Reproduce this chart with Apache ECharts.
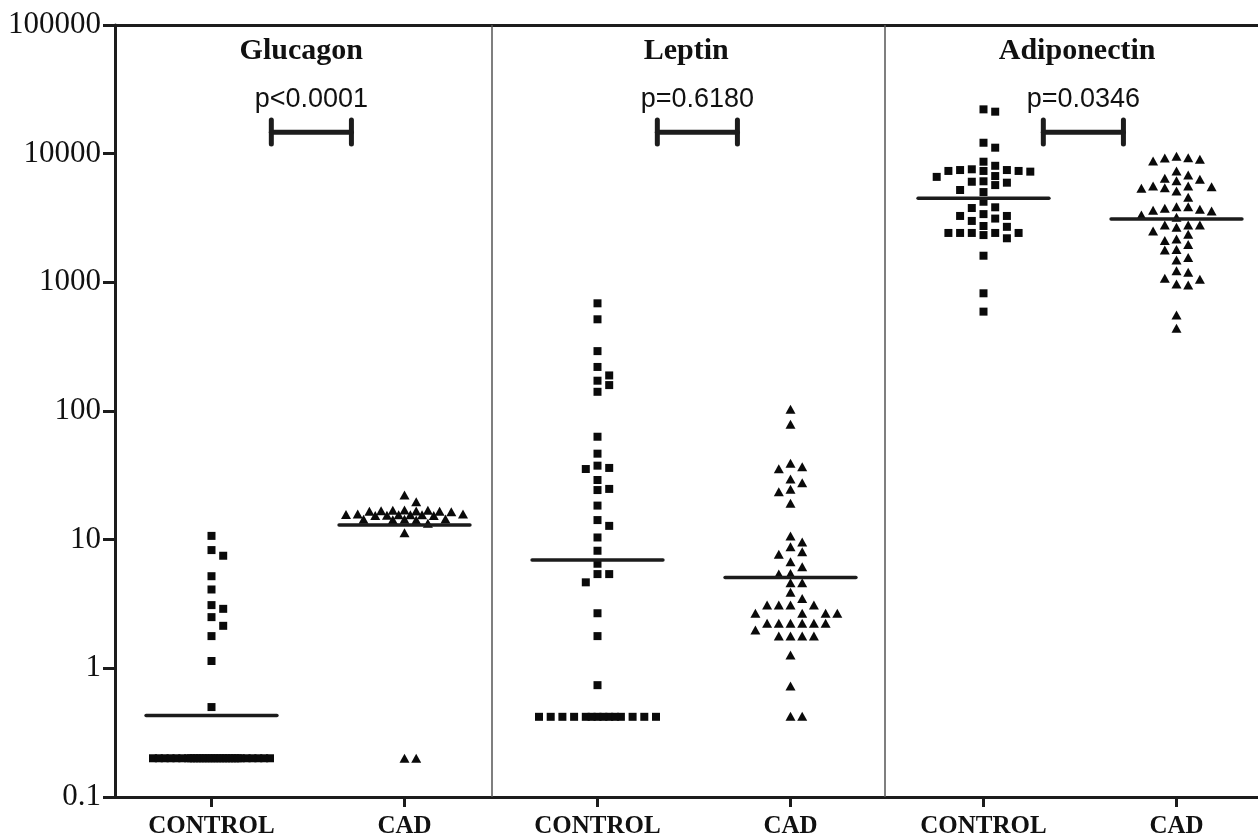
<!DOCTYPE html>
<html><head><meta charset="utf-8">
<script src="https://cdn.jsdelivr.net/npm/echarts@6/dist/echarts.min.js"></script>
<style>html,body{margin:0;padding:0;background:#fff}#c{width:1258px;height:837px}</style>
</head><body><div id="c"></div>
<script>
// ---------- data ----------
const categories = ['CONTROL', 'CAD', 'CONTROL', 'CAD', 'CONTROL', 'CAD'];
const panelTitles = ['Glucagon', 'Leptin', 'Adiponectin'];
const pValues = ['p<0.0001', 'p=0.6180', 'p=0.0346'];
const yTickLabels = ['0.1', '1', '10', '100', '1000', '10000', '100000'];
const panelDividers = [1.45, 3.49];

const glucagonControl = [10.7, 8.3, 7.5, 5.2, 4.1, 3.1, 2.9, 2.5, 2.14, 1.78, 1.14, 0.50,
  0.2, 0.2, 0.2, 0.2, 0.2, 0.2, 0.2, 0.2, 0.2, 0.2, 0.2, 0.2, 0.2, 0.2, 0.2,
  0.2, 0.2, 0.2, 0.2, 0.2, 0.2, 0.2, 0.2, 0.2, 0.2, 0.2, 0.2, 0.2, 0.2, 0.2];
const glucagonCAD = [22.2, 19.7, 16.9, 16.6, 17.0, 16.7, 16.8, 16.5, 16.9, 16.6,
  15.4, 15.8, 15.6, 15.5, 15.7, 15.6, 15.4, 15.8, 15.6,
  14.4, 14.3, 14.5, 14.4, 14.2, 13.4, 11.3, 0.2, 0.2];
const leptinControl = [687, 516, 292, 220, 189, 172, 159, 141, 63.1, 46.6, 37.6, 36.1, 35.4,
  29.1, 24.8, 24.3, 18.4, 14.2, 12.8, 10.4, 8.2, 6.5, 5.4, 5.4, 4.66, 2.68, 1.78, 0.74,
  0.42, 0.42, 0.42, 0.42, 0.42, 0.42, 0.42, 0.42, 0.42, 0.42, 0.42, 0.42, 0.42, 0.42];
const leptinCAD = [103, 79, 39.2, 36.9, 35.6, 29.6, 27.7, 24.6, 23.6, 19.2, 10.7, 9.6, 8.8,
  8.06, 7.7, 6.74, 6.17, 5.47, 5.4, 4.63, 4.63, 3.9, 3.49, 3.1, 3.1, 3.1, 3.1,
  2.68, 2.68, 2.68, 2.68, 2.24, 2.24, 2.24, 2.24, 2.24, 2.24, 1.99,
  1.78, 1.78, 1.78, 1.78, 1.27, 0.73, 0.425, 0.425];
const adiponectinControl = [22100, 21200, 12160, 11130, 8660, 8050, 7560, 6700, 7460, 7340,
  7250, 7340, 7460, 6600, 7340, 5950, 6100, 5220, 5700, 6050, 5030, 4230, 3830, 3280,
  3780, 3000, 3390, 3130, 3280, 2740, 2700, 2420, 2420, 2330, 2420, 2420, 2420, 2200,
  1610, 822, 592];
const adiponectinCAD = [9560, 9270, 8770, 9040, 9300, 7330, 6820, 6320, 6170, 6430, 5610,
  5540, 5380, 5130, 5440, 5610, 4580, 3870, 3760, 3640, 3340, 3590, 3700, 3870, 3200,
  2790, 2790, 2510, 2680, 2790, 2360, 2110, 1970, 2170, 1780, 1800, 1490, 1560, 1230,
  1200, 1055, 953, 970, 1075, 557, 440];
const medians = [0.43, 13.0, 6.95, 5.07, 4500, 3100];

const groups = [glucagonControl, glucagonCAD, leptinControl, leptinCAD, adiponectinControl, adiponectinCAD];

// ---------- chart ----------
const INK = '#1c1c1c';
const DOT = '#0a0a0a';
const X_MIN = -0.5, X_MAX = 5.5;
const chart = echarts.init(document.getElementById('c'), null, { renderer: 'canvas' });
const baseOption = {
  backgroundColor: '#ffffff',
  animation: false,
  grid: { left: 115, top: 25, bottom: 40, width: 1158, containLabel: false, outerBoundsMode: 'none' },
  xAxis: [
    { type: 'value', min: X_MIN, max: X_MAX, position: 'bottom',
      axisLine: { show: true, onZero: false, lineStyle: { color: INK, width: 3 } },
      axisTick: { show: false }, axisLabel: { show: false }, splitLine: { show: false } },
    { type: 'category', data: categories, position: 'bottom', boundaryGap: true,
      axisLine: { show: false, onZero: false },
      axisTick: { show: true, alignWithLabel: true, length: 10, lineStyle: { color: INK, width: 3 } },
      axisLabel: { show: true, interval: 0, margin: 17, color: '#111',
        fontFamily: 'Liberation Serif', fontWeight: 'bold', fontSize: 25 },
      splitLine: { show: false } },
    { type: 'value', min: X_MIN, max: X_MAX, position: 'top',
      axisLine: { show: true, onZero: false, lineStyle: { color: INK, width: 3 } },
      axisTick: { show: false }, axisLabel: { show: false }, splitLine: { show: false } }
  ],
  yAxis: [{
    type: 'log', logBase: 10, min: 0.1, max: 100000, splitNumber: 6, position: 'left',
    axisLine: { show: true, onZero: false, lineStyle: { color: INK, width: 3 } },
    axisTick: { show: true, length: 12, lineStyle: { color: INK, width: 3 } },
    axisLabel: { show: true, margin: 14, color: '#111', fontFamily: 'Liberation Serif', fontSize: 31,
      formatter: (v, i) => yTickLabels[i] },
    splitLine: { show: false }
  }],
  series: []
};
chart.setOption(baseOption);

// pixel helpers from the library's own scales
const px0 = chart.convertToPixel({ xAxisIndex: 0 }, 0);
const px1 = chart.convertToPixel({ xAxisIndex: 0 }, 1);
const pxPerUnit = px1 - px0;
const yPx = v => chart.convertToPixel({ yAxisIndex: 0 }, v);

// deterministic beeswarm layout (slot based)
function swarm(values, center) {
  const STEP = 11.7, THR = 9, MAXS = 5;
  const layers = [[], [], []];
  for (let k = 0; k <= MAXS; k++) { if (k === 0) layers[0].push(0); else layers[0].push(k, -k); }
  for (let k = 0.5; k < MAXS; k += 1) layers[1].push(k, -k);
  for (let k = 0.25; k < MAXS; k += 0.5) layers[2].push(k, -k);
  const order = values.map((v, i) => i).sort((a, b) => values[b] - values[a]);
  const placed = [];
  const out = new Array(values.length);
  order.forEach(i => {
    const py = yPx(values[i]);
    let chosen = null;
    for (const layer of layers) {
      for (const s of layer) {
        const hit = placed.some(p => p.s === s && Math.abs(p.py - py) < THR);
        if (!hit) { chosen = s; break; }
      }
      if (chosen !== null) break;
    }
    if (chosen === null) chosen = 0;
    placed.push({ s: chosen, py });
    out[i] = [center + chosen * STEP / pxPerUnit, values[i]];
  });
  return out;
}

const series = groups.map((vals, gi) => {
  const isControl = gi % 2 === 0;
  const s = {
    type: 'scatter', xAxisIndex: 0, yAxisIndex: 0,
    symbol: isControl ? 'rect' : 'triangle',
    symbolSize: isControl ? 8 : [10, 9],
    itemStyle: { color: DOT, opacity: 1 },
    data: swarm(vals, gi),
    silent: true, z: 3
  };
  if (gi === 0) {
    s.markLine = {
      silent: true, symbol: 'none', animation: false,
      label: { show: false },
      lineStyle: { color: '#555', width: 1.5, type: 'solid', opacity: 1 },
      data: panelDividers.map(v => ({ xAxis: v }))
    };
  }
  return s;
});

const HALF = 0.339;
series.push({
  type: 'custom', xAxisIndex: 0, yAxisIndex: 0, silent: true, z: 4,
  data: medians.map((m, i) => [i, m]),
  renderItem: (params, api) => {
    const i = api.value(0), m = api.value(1);
    const a = api.coord([i - HALF, m]), b = api.coord([i + HALF, m]);
    return { type: 'line', shape: { x1: a[0], y1: a[1], x2: b[0], y2: b[1] },
      style: { stroke: INK, lineWidth: 3.5, lineCap: 'round' } };
  }
});

// brackets + p values + panel titles
const panelBounds = [X_MIN].concat(panelDividers, [X_MAX]);
series.push({
  type: 'custom', xAxisIndex: 0, yAxisIndex: 0, silent: true, z: 5,
  data: panelTitles.map((t, i) => [i]),
  renderItem: (params, api) => {
    const p = api.value(0);
    const c = 2 * p;
    const l = api.coord([c + 0.31, 14700]);
    const r = api.coord([c + 0.725, 14700]);
    const capTop = api.coord([c, 18300])[1];
    const capBot = api.coord([c, 11900])[1];
    const mid = (l[0] + r[0]) / 2;
    const pTextY = api.coord([c, 26500])[1];
    const titleY = api.coord([c, 63000])[1];
    const titleX = api.coord([(panelBounds[p] + panelBounds[p + 1]) / 2 - 0.01, 1])[0];
    const st = { stroke: INK, lineWidth: 5, lineCap: 'round' };
    return { type: 'group', children: [
      { type: 'line', shape: { x1: l[0], y1: l[1], x2: r[0], y2: r[1] }, style: st },
      { type: 'line', shape: { x1: l[0], y1: capTop, x2: l[0], y2: capBot }, style: st },
      { type: 'line', shape: { x1: r[0], y1: capTop, x2: r[0], y2: capBot }, style: st },
      { type: 'text', style: { text: pValues[p], x: mid, y: pTextY, align: 'center', verticalAlign: 'middle',
          fill: '#111', font: '27px "Liberation Sans", Arial, sans-serif' } },
      { type: 'text', style: { text: panelTitles[p], x: titleX, y: titleY, align: 'center', verticalAlign: 'middle',
          fill: '#111', font: 'bold 30px "Liberation Serif", "Times New Roman", serif' } }
    ] };
  }
});

chart.setOption({ series });
</script>
</body></html>
